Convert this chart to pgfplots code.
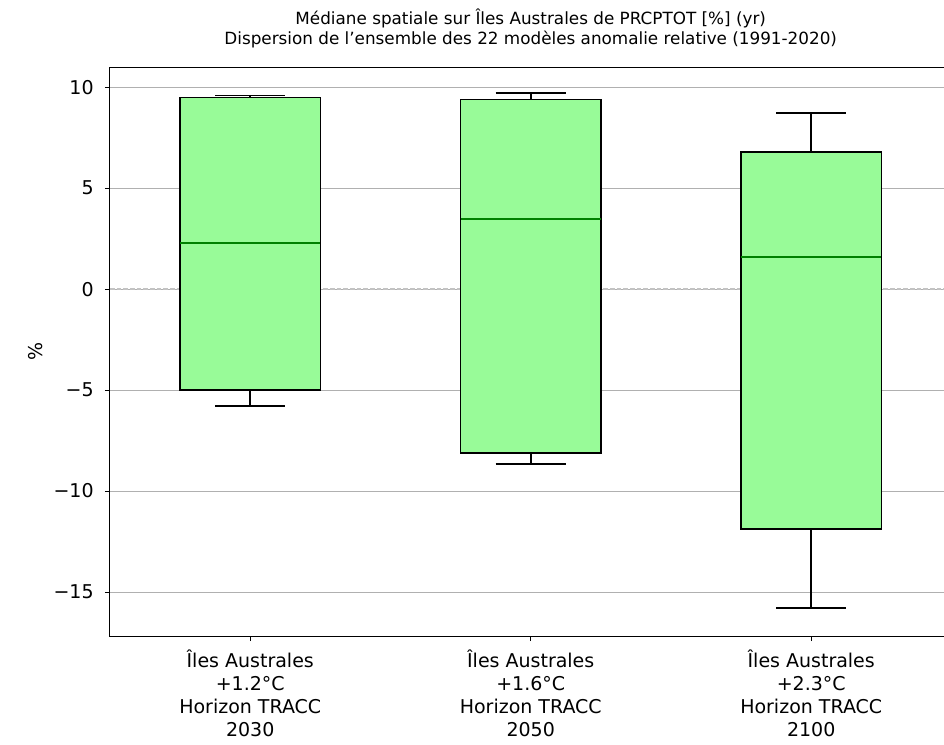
\documentclass[border=0pt]{standalone}
\usepackage{fontspec}
\setmainfont{DejaVu Sans}
\usepackage{pgfplots}
\pgfplotsset{compat=1.18}
\usepgfplotslibrary{statistics}
\definecolor{boxfill}{RGB}{152,251,152}
\definecolor{medgreen}{RGB}{0,128,0}
\definecolor{gridgray}{RGB}{176,176,176}
\definecolor{zerogray}{RGB}{195,195,195}
\begin{document}
\begin{tikzpicture}
\begin{axis}[
  at={(0,0)}, anchor=south west,
  scale only axis,
  width=631.1pt, height=426.75pt,
  xmin=0.5, xmax=3.5,
  ymin=-17.18, ymax=11.0,
  xtick={1,2,3},
  xticklabels={{Îles Australes\\+1.2°C\\Horizon TRACC\\2030},{Îles Australes\\+1.6°C\\Horizon TRACC\\2050},{Îles Australes\\+2.3°C\\Horizon TRACC\\2100}},
  ytick={-15,-10,-5,0,5,10},
  yticklabels={−15,−10,−5,0,5,10},
  tick pos=left,
  tick align=outside,
  major tick length=3.75pt,
  every tick/.style={black, line width=0.6pt},
  axis line style={line width=0.75pt},
  ymajorgrids,
  grid style={gridgray, line width=0.7pt},
  xticklabel style={align=center, font=\fontsize{14.25}{17.25}\selectfont, yshift=-3pt},
  yticklabel style={font=\fontsize{14.25}{17}\selectfont, xshift=-5pt},
  every axis y label/.style={at={(axis description cs:0,0.5)}, anchor=center, xshift=-56pt, rotate=90, font=\fontsize{14.25}{17}\selectfont},
  ylabel={\%},
  title style={at={(axis description cs:0.5,1)}, anchor=south, yshift=5pt, align=center, font=\fontsize{12.6}{14.8}\selectfont},
  title={Médiane spatiale sur Îles Australes de PRCPTOT [\%] (yr)\\Dispersion de l'ensemble des 22 modèles anomalie relative (1991-2020)},
  boxplot/draw direction=y,
  boxplot/box extend=0.5,
  boxplot/whisker extend=0.25,
  boxplot/every box/.style={draw=black, fill=boxfill, line width=1.15pt},
  boxplot/every whisker/.style={draw=black, line width=1.15pt},
  boxplot/every median/.style={draw=medgreen, line width=1.15pt},
  clip=false,
]
\addplot[zerogray, line width=1pt, dash pattern=on 3.5pt off 1.5pt] coordinates {(0.5,0) (3.5,0)};
\addplot[boxplot prepared={draw position=1, median=2.28, upper quartile=9.5, lower quartile=-5.0, upper whisker=9.6, lower whisker=-5.79}, draw=black, line width=1.15pt, mark=none] coordinates {};
\addplot[boxplot prepared={draw position=2, median=3.47, upper quartile=9.4, lower quartile=-8.12, upper whisker=9.7, lower whisker=-8.66}, draw=black, line width=1.15pt, mark=none] coordinates {};
\addplot[boxplot prepared={draw position=3, median=1.58, upper quartile=6.78, lower quartile=-11.88, upper whisker=8.71, lower whisker=-15.79}, draw=black, line width=1.15pt, mark=none] coordinates {};
\end{axis}
\pgfresetboundingbox
\path[use as bounding box] (-82.5pt,-81pt) rectangle (625.5pt,477pt);
\end{tikzpicture}
\end{document}
